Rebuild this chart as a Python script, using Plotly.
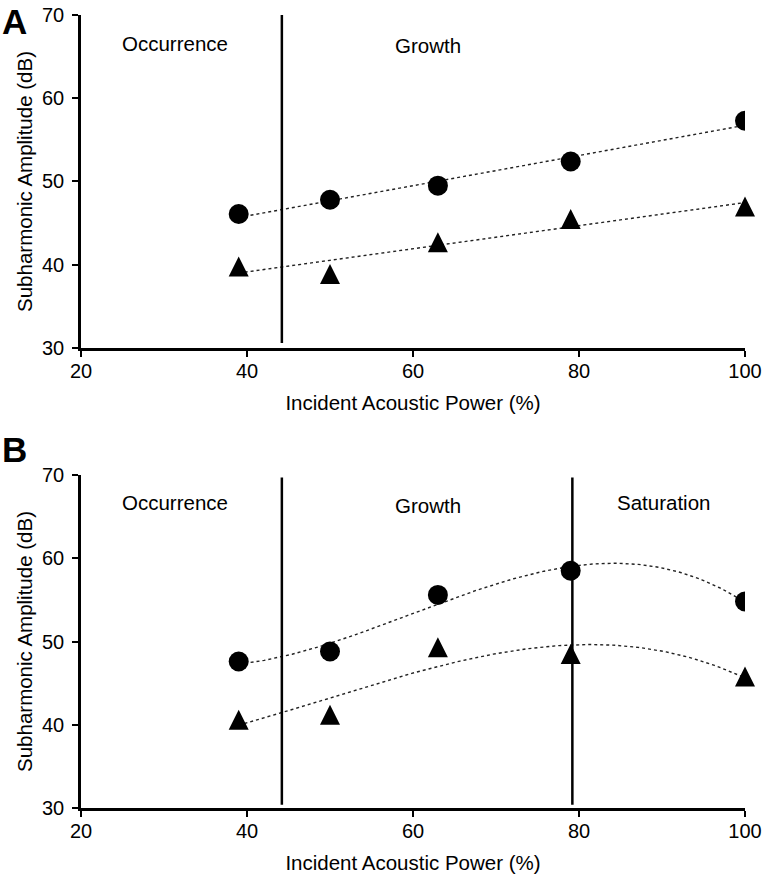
import numpy as np
import plotly.graph_objects as go

power = [39, 50, 63, 79, 100]
a_circle = [46.1, 47.8, 49.5, 52.4, 57.3]
a_triangle = [39.8, 38.9, 42.7, 45.5, 47.0]
b_circle = [47.6, 48.8, 55.6, 58.5, 54.8]
b_triangle = [40.6, 41.2, 49.3, 48.5, 45.8]

a_bounds = [44.2]
b_bounds = [44.2, 79.2]

x_ticks = [20, 40, 60, 80, 100]
y_ticks = [30, 40, 50, 60, 70]

FONT = "Liberation Sans, Arial, sans-serif"
W, H = 762, 875
M = dict(l=81, r=17, t=15, b=67)
DOM_A = [0.5801, 1.0]
DOM_B = [0.0, 0.4199]
Y_RANGE = [30, 70]
TRI_SIZE = 20
CIRC_SIZE = 20

plot_h = H - M["t"] - M["b"]
px_per_unit = plot_h * (DOM_A[1] - DOM_A[0]) / (Y_RANGE[1] - Y_RANGE[0])
shift = (TRI_SIZE / 2) / px_per_unit  # centre the apex-anchored triangle marker

fig = go.Figure()


def trend(xs, ys, deg):
    c = np.polyfit(xs, ys, deg)
    xx = np.linspace(min(xs), max(xs), 200)
    return xx, np.polyval(c, xx)


dot = dict(color="#222222", width=1.4, dash="dot")
circ = dict(symbol="circle", size=CIRC_SIZE, color="black", line=dict(width=0))
tri = dict(symbol="arrow-up", size=TRI_SIZE, color="black", line=dict(width=0))

panels = [("x", "y", "y3", a_circle, a_triangle, 1),
          ("x2", "y2", "y4", b_circle, b_triangle, 3)]
for xa, ya, ya_tri, circ_y, tri_y, deg in panels:
    for ys in (circ_y, tri_y):
        xx, yy = trend(power, ys, deg)
        fig.add_trace(go.Scatter(x=xx, y=yy, mode="lines", line=dot, xaxis=xa, yaxis=ya,
                                 showlegend=False, hoverinfo="skip"))
    fig.add_trace(go.Scatter(x=power, y=circ_y, mode="markers", marker=circ,
                             xaxis=xa, yaxis=ya, showlegend=False))
    fig.add_trace(go.Scatter(x=power, y=tri_y, mode="markers", marker=tri,
                             xaxis=xa, yaxis=ya_tri, showlegend=False, cliponaxis=False))

for xb in a_bounds:
    fig.add_shape(type="line", x0=xb, x1=xb, y0=30.6, y1=70, xref="x", yref="y",
                  line=dict(color="black", width=2.5))
for xb in b_bounds:
    fig.add_shape(type="line", x0=xb, x1=xb, y0=30.4, y1=69.7, xref="x2", yref="y2",
                  line=dict(color="black", width=2.5))

axis_common = dict(
    showline=True, linecolor="black", linewidth=2.6, ticks="outside",
    tickcolor="black", tickwidth=2, ticklen=6, showgrid=False, zeroline=False,
    tickfont=dict(family=FONT, size=20, color="black"), automargin=False,
)
title_font = dict(family=FONT, size=20.5, color="black")

fig.update_layout(
    width=W, height=H, margin=M,
    plot_bgcolor="white", paper_bgcolor="white",
    font=dict(family=FONT, color="black"),
    xaxis=dict(axis_common, range=[20, 100], tickvals=x_ticks, anchor="y",
               ticklabelstandoff=-3,
               title=dict(text="Incident Acoustic Power (%)", font=title_font, standoff=15)),
    yaxis=dict(axis_common, range=Y_RANGE, tickvals=y_ticks, domain=DOM_A, anchor="x",
               ticklabelstandoff=4,
               title=dict(text="Subharmonic Amplitude (dB)", font=title_font, standoff=4)),
    xaxis2=dict(axis_common, range=[20, 100], tickvals=x_ticks, anchor="y2",
                ticklabelstandoff=-3,
                title=dict(text="Incident Acoustic Power (%)", font=title_font, standoff=15)),
    yaxis2=dict(axis_common, range=Y_RANGE, tickvals=y_ticks, domain=DOM_B, anchor="x2",
                ticklabelstandoff=4,
                title=dict(text="Subharmonic Amplitude (dB)", font=title_font, standoff=4)),
    yaxis3=dict(range=[Y_RANGE[0] - shift, Y_RANGE[1] - shift], overlaying="y",
                anchor="x", visible=False),
    yaxis4=dict(range=[Y_RANGE[0] - shift, Y_RANGE[1] - shift], overlaying="y2",
                anchor="x2", visible=False),
)

ann_font = dict(family=FONT, size=20.5, color="black")
fig.add_annotation(x=31.3, y=66.6, xref="x", yref="y", text="Occurrence", showarrow=False, font=ann_font)
fig.add_annotation(x=61.8, y=66.3, xref="x", yref="y", text="Growth", showarrow=False, font=ann_font)
fig.add_annotation(x=31.3, y=66.7, xref="x2", yref="y2", text="Occurrence", showarrow=False, font=ann_font)
fig.add_annotation(x=61.8, y=66.3, xref="x2", yref="y2", text="Growth", showarrow=False, font=ann_font)
fig.add_annotation(x=90.2, y=66.7, xref="x2", yref="y2", text="Saturation", showarrow=False, font=ann_font)

plot_w = W - M["l"] - M["r"]
lab_font = dict(family=FONT, size=35, color="black")
fig.add_annotation(x=-M["l"] / plot_w, y=(H - M["b"]) / plot_h, xref="paper", yref="paper",
                   text="<b>A</b>", showarrow=False, xanchor="left", yanchor="top", font=lab_font)
fig.add_annotation(x=-M["l"] / plot_w, y=(H - M["b"] - 450) / plot_h, xref="paper", yref="paper",
                   text="<b>B</b>", showarrow=False, xanchor="left", yanchor="middle", font=lab_font)

fig.write_html("out.html", config={"displayModeBar": False},
               post_script="document.body.style.margin='0px';")
